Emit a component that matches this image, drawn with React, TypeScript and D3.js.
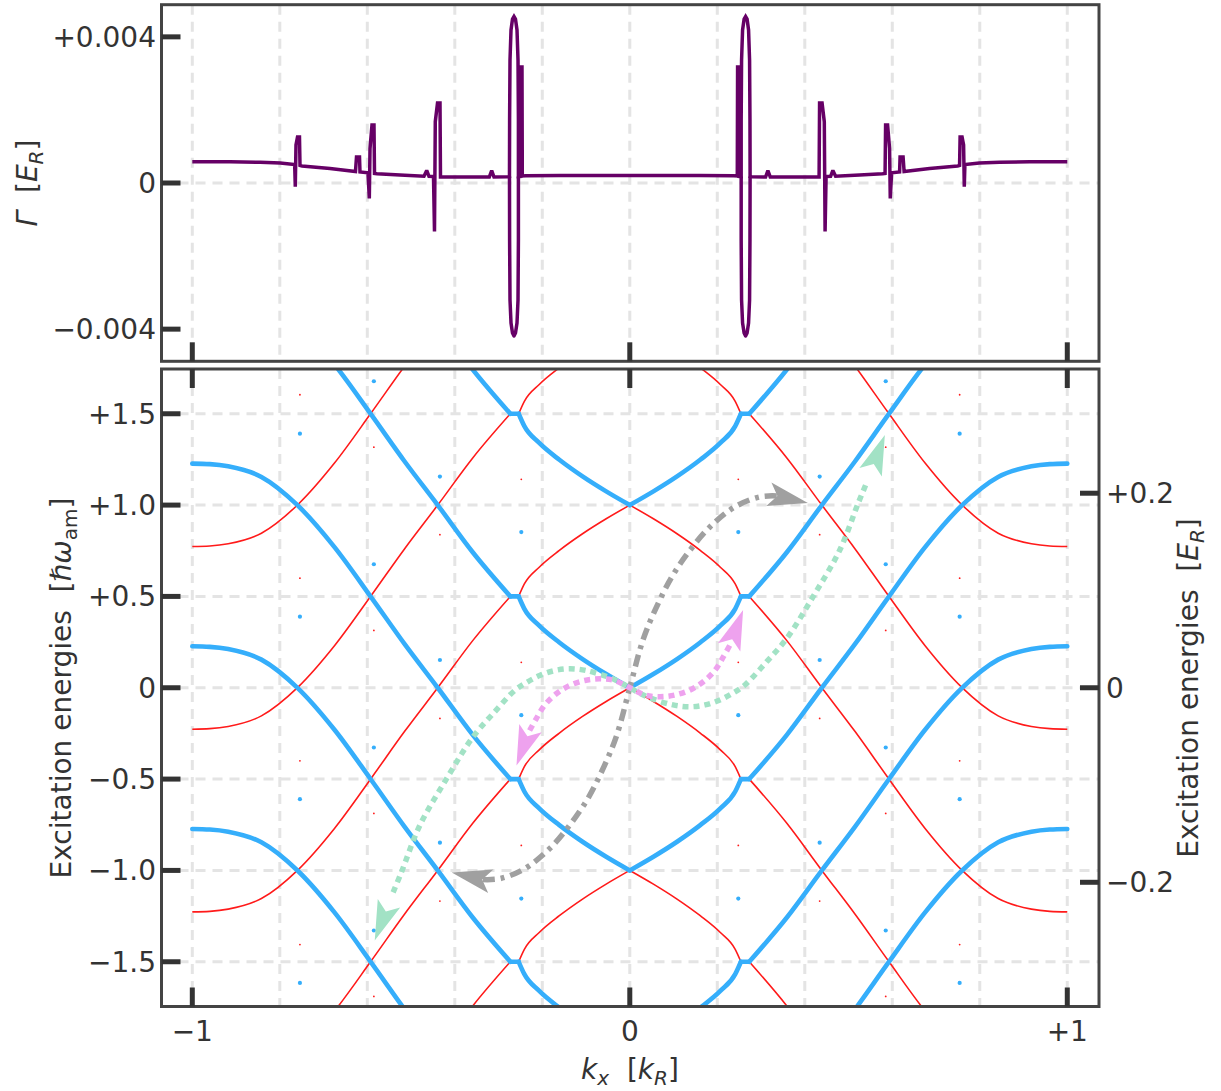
import React from 'react';
import * as d3 from 'd3';

// ---------- Bottom panel: base excitation branch (k >= 0 half), in units of ħω_am ----------
const dispK = [0, 0.054, 0.108, 0.161, 0.207, 0.241, 0.254, 0.273, 0.359, 0.439, 0.515, 0.591, 0.675, 0.759, 0.842, 0.918, 0.96, 1.0];
const dispE = [-1, -0.925, -0.843, -0.752, -0.66, -0.568, -0.5, -0.5, -0.258, 0.0, 0.24, 0.495, 0.77, 0.998, 1.154, 1.212, 1.224, 1.227];
// band replicas (energy offsets in ħω_am)
const blueShifts = [-3, -2, -1, 0, 1, 2, 3];
const redShifts = [-3, -2, -1, 0, 1, 2, 3];

// isolated points (|k| positions and energies)
const dotK = [0.754, 0.585, 0.434, 0.248];
const blueDotE = [
  [1.391, 0.389, -0.61, -1.616],
  [1.678, 0.676, -0.327, -1.329],
  [1.156, 0.152, -0.848],
  [0.852, -0.15, -1.154],
];
const redDotE = [
  [1.604, 0.6, -0.4, -1.406],
  [1.317, 0.314, -0.688, -1.69],
  [0.838, -0.168, -1.168],
  [1.141, 0.139, -0.863],
];

// ---------- Top panel: Γ(k) left half (k <= 0), in E_R ----------
const gammaK = [
  -1.0, -0.914, -0.845, -0.799, -0.766,
  -0.7646, -0.763, -0.7595, -0.755, -0.7538, -0.7493,
  -0.6853, -0.627, -0.6247, -0.6178, -0.6167, -0.5984,
  -0.5954, -0.5938, -0.5893, -0.5847, -0.5835, -0.5778,
  -0.5253, -0.4704, -0.4642, -0.459, -0.4487,
  -0.4464, -0.4446, -0.4395, -0.4338, -0.4327, -0.427,
  -0.3653, -0.3211, -0.3157, -0.3104, -0.2784,
  -0.275, -0.2747, -0.2738, -0.2715, -0.2681, -0.2647, -0.2613, -0.2578, -0.2555, -0.2546, -0.2546,
  -0.2491, -0.2487, -0.2464, -0.2457, -0.2373, -0.1595, -0.0681, 0,
];
const gammaV = [
  0.000583, 0.00058, 0.000569, 0.000547, 0.000504,
  -0.000101, 0.00104, 0.001259, 0.001259, 0.000479, 0.000465,
  0.000397, 0.000315, 0.000712, 0.000712, 0.000301, 0.000279,
  -0.000424, 0.000944, 0.001587, 0.001587, 0.00026, 0.000252,
  0.000219, 0.000186, 0.000342, 0.000183, 0.000178,
  -0.001327, 0.001678, 0.00219, 0.00219, 0.000164, 0.000164,
  0.000164, 0.000164, 0.000342, 0.000164, 0.00017,
  0.000178, 0.001724, 0.003366, 0.004188, 0.004489, 0.004557, 0.004489, 0.004188, 0.003366, 0.001724, 0.000178,
  0.000183, 0.003175, 0.003175, 0.000192, 0.000197, 0.000203, 0.000205, 0.000205,
];
// lower half of the resonance loop (left side)
const loopK = [-0.275, -0.2747, -0.2738, -0.2715, -0.2681, -0.2647, -0.2613, -0.2578, -0.2555, -0.2546, -0.2546];
const loopV = [0.000178, -0.00156, -0.003202, -0.003832, -0.004105, -0.004188, -0.004105, -0.003832, -0.003202, -0.00156, 0.000178];

// ---------- Arrows (upper half from k=0; point-symmetric) ----------
const greyK = [0, 0.03, 0.058, 0.096, 0.138, 0.183, 0.24, 0.297, 0.336];
const greyE = [0, 0.261, 0.426, 0.607, 0.754, 0.88, 0.99, 1.045, 1.05];
const greyTip = [0.407, 1.012];
const pinkK = [0, 0.035, 0.069, 0.103, 0.138, 0.168, 0.195, 0.214, 0.229];
const pinkE = [0, -0.04, -0.049, -0.04, -0.012, 0.033, 0.096, 0.17, 0.234];
const pinkTip = [0.259, 0.426];
const greenK = [0, 0.039, 0.099, 0.138, 0.172, 0.206, 0.236, 0.263, 0.313, 0.359, 0.419, 0.48, 0.522, 0.541];
const greenE = [0, -0.049, -0.094, -0.104, -0.094, -0.067, -0.029, 0.015, 0.143, 0.271, 0.499, 0.754, 1.01, 1.12];
const greenTip = [0.583, 1.384];

// ---------- Ticks ----------
const kTicks = [-1, 0, 1];
const kTickLabels = ['\u22121', '0', '+1'];
const kGrid = [-1, -0.8, -0.6, -0.4, -0.2, 0, 0.2, 0.4, 0.6, 0.8, 1];
const gTicks = [-0.004, 0, 0.004];
const gTickLabels = ['\u22120.004', '0', '+0.004'];
const eTicks = [-1.5, -1, -0.5, 0, 0.5, 1, 1.5];
const eTickLabels = ['\u22121.5', '\u22121.0', '\u22120.5', '0', '+0.5', '+1.0', '+1.5'];
const rTicks = [-0.2, 0, 0.2];
const rTickLabels = ['\u22120.2', '0', '+0.2'];
const hbarOmegaInER = 0.1878;

const FONT = '"DejaVu Sans", "Liberation Sans", sans-serif';
const TXT = '#333';
const FRAME = '#444';
const GRID = '#e4e4e4';
const BLUE = '#35aefb';
const RED = '#ff1a1a';
const PURPLE = '#660066';

type P = [number, number];

export default function App() {
  const L = 161.5, R = 1099;
  const gTop = 4.7, gBot = 361.3;
  const eTop = 369, eBot = 1006.5;
  const x = d3.scaleLinear().domain([-1.0704, 1.0725]).range([L, R]);
  const yG = d3.scaleLinear().domain([-0.00488, 0.00488]).range([gBot, gTop]);
  const yE = d3.scaleLinear().domain([-1.745, 1.745]).range([eBot, eTop]);
  const yR = d3.scaleLinear().domain([-1.745 * hbarOmegaInER, 1.745 * hbarOmegaInER]).range([eBot, eTop]);

  const smooth = d3.line<P>().x(d => x(d[0])).y(d => yE(d[1])).curve(d3.curveMonotoneX);
  const straight = d3.line<P>().x(d => x(d[0])).y(d => yE(d[1]));

  // split the half-branch at its flat (avoided-crossing) segment so the joins stay sharp
  const half: P[] = dispK.map((k, i) => [k, dispE[i]]);
  const flatAt = dispE.findIndex((e, i) => i < dispE.length - 1 && e === dispE[i + 1]);
  const piecesRight: { pts: P[]; flat: boolean }[] = [
    { pts: half.slice(0, flatAt + 1), flat: false },
    { pts: half.slice(flatAt, flatAt + 2), flat: true },
    { pts: half.slice(flatAt + 1), flat: false },
  ];
  const pieces = [
    ...piecesRight,
    ...piecesRight.map(p => ({ pts: p.pts.map(([k, e]) => [-k, e] as P).reverse(), flat: p.flat })),
  ];
  const draw = (pts: P[], flat: boolean) => (flat ? straight(pts) : smooth(pts)) || '';

  const bluePaths: string[] = [];
  blueShifts.forEach(n => pieces.forEach(p => bluePaths.push(draw(p.pts.map(([k, e]) => [k, e + n] as P), p.flat))));
  const redPaths: string[] = [];
  redShifts.forEach(m => pieces.forEach(p => redPaths.push(draw(p.pts.map(([k, e]) => [k, -e + m] as P), p.flat))));

  // gamma line: left half + mirrored right half
  const gLeft: P[] = gammaK.map((k, i) => [k, gammaV[i]]);
  const gRight: P[] = gLeft.slice(0, -1).map(([k, v]) => [-k, v] as P).reverse();
  const gLine = d3.line<P>().x(d => x(d[0])).y(d => yG(d[1]));
  const gPath = gLine([...gLeft, ...gRight]) || '';
  const loopL: P[] = loopK.map((k, i) => [k, loopV[i]]);
  const loopR: P[] = loopL.map(([k, v]) => [-k, v] as P);
  const loopPaths = [gLine(loopL) || '', gLine(loopR) || ''];

  const arrowLine = d3.line<P>().x(d => x(d[0])).y(d => yE(d[1])).curve(d3.curveCatmullRom.alpha(0.5));
  function buildArrow(ks: number[], es: number[], tip: number[]) {
    const up: P[] = ks.map((k, i) => [k, es[i]]);
    const down: P[] = up.slice(1).map(([k, e]) => [-k, -e] as P).reverse();
    const path = arrowLine([...down, ...up]) || '';
    const heads: string[] = [];
    const ends: [P, P][] = [
      [up[up.length - 1], [tip[0], tip[1]]],
      [[-up[up.length - 1][0], -up[up.length - 1][1]], [-tip[0], -tip[1]]],
    ];
    ends.forEach(([s, t]) => {
      const sx = x(s[0]), sy = yE(s[1]), tx = x(t[0]), ty = yE(t[1]);
      const dx = tx - sx, dy = ty - sy;
      const len = Math.hypot(dx, dy);
      const ux = dx / len, uy = dy / len;
      const px = -uy, py = ux;
      const Lh = 40, Wh = 12;
      const pts = [
        [tx, ty],
        [tx - Lh * ux + Wh * px, ty - Lh * uy + Wh * py],
        [tx - 0.78 * Lh * ux, ty - 0.78 * Lh * uy],
        [tx - Lh * ux - Wh * px, ty - Lh * uy - Wh * py],
      ];
      heads.push(pts.map(p => p.join(',')).join(' '));
    });
    return { path, heads };
  }
  const grey = buildArrow(greyK, greyE, greyTip);
  const pink = buildArrow(pinkK, pinkE, pinkTip);
  const green = buildArrow(greenK, greenE, greenTip);

  const tickW = 5, tickLen = 19;

  return (
    <svg width={1221} height={1091} style={{ position: 'absolute', left: 0, top: 0, background: '#fff' }}
      fontFamily={FONT}>
      <defs>
        <clipPath id="clipE"><rect x={L} y={eTop} width={R - L} height={eBot - eTop} /></clipPath>
        <clipPath id="clipG"><rect x={L} y={gTop} width={R - L} height={gBot - gTop} /></clipPath>
      </defs>
      <rect x={0} y={0} width={1221} height={1091} fill="#fff" />

      {/* ---------- Top panel ---------- */}
      <g>
        {kGrid.map(k => (
          <line key={'gv' + k} x1={x(k)} x2={x(k)} y1={gTop} y2={gBot} stroke={GRID} strokeWidth={3} strokeDasharray="10,7" />
        ))}
        <line x1={L} x2={R} y1={yG(0)} y2={yG(0)} stroke={GRID} strokeWidth={3} strokeDasharray="10,7" />
        <g clipPath="url(#clipG)">
          <path d={gPath} fill="none" stroke={PURPLE} strokeWidth={3.5} strokeLinejoin="miter" strokeMiterlimit={2} />
          {loopPaths.map((d, i) => (
            <path key={'lp' + i} d={d} fill="none" stroke={PURPLE} strokeWidth={3.5} strokeLinejoin="round" />
          ))}
        </g>
        <rect x={L} y={gTop} width={R - L} height={gBot - gTop} fill="none" stroke={FRAME} strokeWidth={3} />
        {gTicks.map((t, i) => (
          <g key={'gt' + i}>
            <line x1={L} x2={L + tickLen} y1={yG(t)} y2={yG(t)} stroke="#333" strokeWidth={tickW} />
            <text x={156} y={yG(t) + 10} textAnchor="end" fontSize={28} fill={TXT}>{gTickLabels[i]}</text>
          </g>
        ))}
        {kTicks.map(k => (
          <line key={'gk' + k} x1={x(k)} x2={x(k)} y1={gBot} y2={gBot - tickLen} stroke="#333" strokeWidth={tickW} />
        ))}
        <text transform="translate(37,183) rotate(-90)" textAnchor="middle" fontSize={28} fill={TXT} style={{ whiteSpace: 'pre' }}>
          <tspan fontStyle="italic">Γ</tspan>
          <tspan>{'  ['}</tspan>
          <tspan fontStyle="italic">E</tspan>
          <tspan fontStyle="italic" fontSize={20} dy={6}>R</tspan>
          <tspan dy={-6}>]</tspan>
        </text>
      </g>

      {/* ---------- Bottom panel ---------- */}
      <g>
        {kGrid.map(k => (
          <line key={'ev' + k} x1={x(k)} x2={x(k)} y1={eTop} y2={eBot} stroke={GRID} strokeWidth={3} strokeDasharray="10,7" />
        ))}
        {eTicks.map(e => (
          <line key={'eh' + e} x1={L} x2={R} y1={yE(e)} y2={yE(e)} stroke={GRID} strokeWidth={3} strokeDasharray="10,7" />
        ))}
        <g clipPath="url(#clipE)">
          {redPaths.map((d, i) => (
            <path key={'r' + i} d={d} fill="none" stroke={RED} strokeWidth={1.6} />
          ))}
          {bluePaths.map((d, i) => (
            <path key={'b' + i} d={d} fill="none" stroke={BLUE} strokeWidth={4.6} strokeLinejoin="round" strokeLinecap="round" />
          ))}
          {dotK.map((k, i) => [-k, k].map(kk => (
            <g key={'d' + i + '_' + kk}>
              {blueDotE[i].map(e => <circle key={'bd' + e} cx={x(kk)} cy={yE(e)} r={2.1} fill={BLUE} />)}
              {redDotE[i].map(e => <circle key={'rd' + e} cx={x(kk)} cy={yE(e)} r={0.9} fill={RED} />)}
            </g>
          )))}
          {/* arrows */}
          <path d={grey.path} fill="none" stroke="#a0a0a0" strokeWidth={5.5} strokeDasharray="12,6,4,6" />
          {grey.heads.map((p, i) => <polygon key={'gh' + i} points={p} fill="#a0a0a0" />)}
          <path d={green.path} fill="none" stroke="#a2e2c5" strokeWidth={5.5} strokeDasharray="6,5" />
          {green.heads.map((p, i) => <polygon key={'grh' + i} points={p} fill="#a2e2c5" />)}
          <path d={pink.path} fill="none" stroke="#eea2ee" strokeWidth={5.5} strokeDasharray="6,5" />
          {pink.heads.map((p, i) => <polygon key={'ph' + i} points={p} fill="#eea2ee" />)}
        </g>
        <rect x={L} y={eTop} width={R - L} height={eBot - eTop} fill="none" stroke={FRAME} strokeWidth={3} />
        {eTicks.map((e, i) => (
          <g key={'et' + i}>
            <line x1={L} x2={L + tickLen} y1={yE(e)} y2={yE(e)} stroke="#333" strokeWidth={tickW} />
            <text x={156} y={yE(e) + 10} textAnchor="end" fontSize={28} fill={TXT}>{eTickLabels[i]}</text>
          </g>
        ))}
        {rTicks.map((t, i) => (
          <g key={'rt' + i}>
            <line x1={R} x2={R - tickLen} y1={yR(t)} y2={yR(t)} stroke="#333" strokeWidth={tickW} />
            <text x={1106} y={yR(t) + 10} textAnchor="start" fontSize={28} fill={TXT}>{rTickLabels[i]}</text>
          </g>
        ))}
        {kTicks.map((k, i) => (
          <g key={'ek' + i}>
            <line x1={x(k)} x2={x(k)} y1={eBot} y2={eBot - tickLen} stroke="#333" strokeWidth={tickW} />
            <line x1={x(k)} x2={x(k)} y1={eTop} y2={eTop + tickLen} stroke="#333" strokeWidth={tickW} />
            <text x={x(k)} y={1041} textAnchor="middle" fontSize={28} fill={TXT}>{kTickLabels[i]}</text>
          </g>
        ))}
        <text transform="translate(71,688) rotate(-90)" textAnchor="middle" fontSize={28} fill={TXT} style={{ whiteSpace: 'pre' }}>
          <tspan>{'Excitation energies  ['}</tspan>
          <tspan fontStyle="italic">ℏω</tspan>
          <tspan fontSize={20} dy={6}>am</tspan>
          <tspan dy={-6}>]</tspan>
        </text>
        <text transform="translate(1198,688) rotate(-90)" textAnchor="middle" fontSize={28} fill={TXT} style={{ whiteSpace: 'pre' }}>
          <tspan>{'Excitation energies  ['}</tspan>
          <tspan fontStyle="italic">E</tspan>
          <tspan fontStyle="italic" fontSize={20} dy={6}>R</tspan>
          <tspan dy={-6}>]</tspan>
        </text>
        <text x={630} y={1079} textAnchor="middle" fontSize={28} fill={TXT} style={{ whiteSpace: 'pre' }}>
          <tspan fontStyle="italic">k</tspan>
          <tspan fontStyle="italic" fontSize={20} dy={6}>x</tspan>
          <tspan dy={-6}>{'  ['}</tspan>
          <tspan fontStyle="italic">k</tspan>
          <tspan fontStyle="italic" fontSize={20} dy={6}>R</tspan>
          <tspan dy={-6}>]</tspan>
        </text>
      </g>
    </svg>
  );
}
